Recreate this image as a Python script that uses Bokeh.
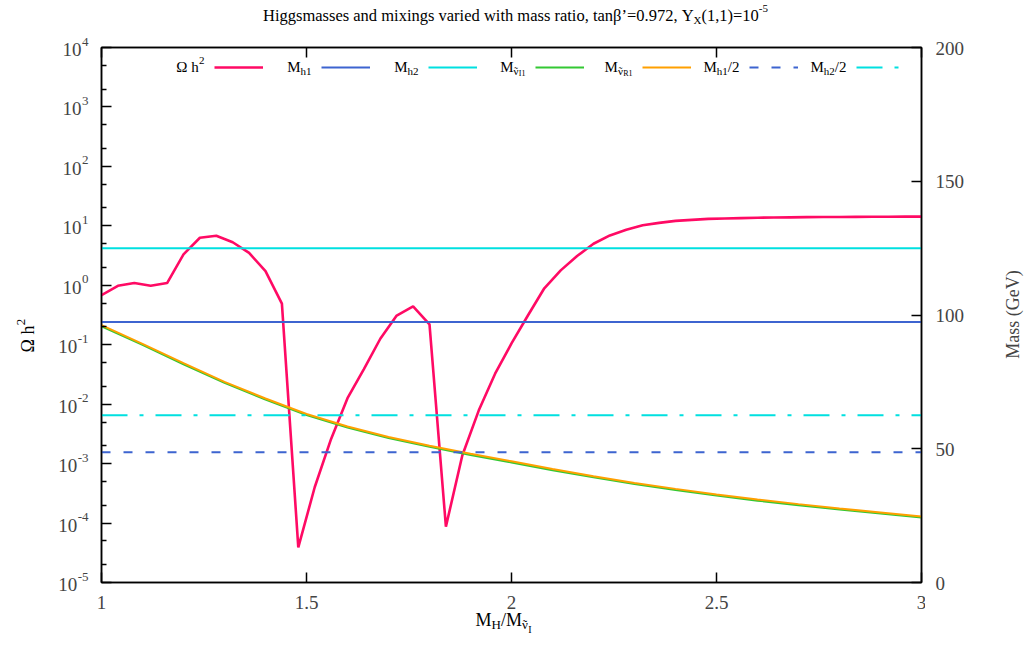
import unicodedata
from math import pi

from bokeh.plotting import figure
from bokeh.layouts import column, row
from bokeh.models import (Range1d, LinearAxis, LinearScale, LogScale, FixedTicker,
                          CustomJSTickFormatter, Label, Legend, LegendItem)
from bokeh.embed import file_html
from bokeh.resources import INLINE

# ---------------------------------------------------------------- data
# relic density along the scan in M_H / M_snu_I
mass_ratio = [1.00, 1.04, 1.08, 1.12, 1.16, 1.20, 1.24, 1.28, 1.32, 1.36,
              1.40, 1.44, 1.48, 1.52, 1.56, 1.60, 1.64, 1.68, 1.72, 1.76,
              1.80, 1.84, 1.88, 1.92, 1.96, 2.00, 2.04, 2.08, 2.12, 2.16,
              2.20, 2.24, 2.28, 2.32, 2.36, 2.40, 2.44, 2.48, 2.52, 2.56,
              2.60, 2.64, 2.68, 2.72, 2.76, 2.80, 2.84, 2.88, 2.92, 2.96, 3.00]
omega_h2 = [0.68, 0.98, 1.09, 0.98, 1.09, 3.3, 6.3, 6.8, 5.3, 3.5,
            1.73, 0.49, 3.9e-5, 4.0e-4, 2.6e-3, 1.26e-2, 3.9e-2, 0.126, 0.31, 0.44,
            0.22, 8.7e-5, 1.37e-3, 7.8e-3, 3.25e-2, 0.105, 0.31, 0.89, 1.78, 3.1,
            5.0, 6.9, 8.6, 10.2, 11.2, 12.1, 12.6, 13.1, 13.3, 13.5,
            13.7, 13.8, 13.9, 14.0, 14.05, 14.1, 14.15, 14.2, 14.25, 14.3, 14.3]

# lightest sneutrino masses (GeV)
ratio_grid = [1.0, 1.1, 1.2, 1.3, 1.4, 1.5, 1.6, 1.7, 1.8, 1.9, 2.0,
              2.1, 2.2, 2.3, 2.4, 2.5, 2.6, 2.7, 2.8, 2.9, 3.0]
m_snu_I1 = [95.8, 88.8, 81.6, 74.6, 68.4, 62.6, 57.9, 54.0, 50.7, 47.7, 44.9,
            42.0, 39.3, 36.8, 34.6, 32.5, 30.6, 28.9, 27.3, 25.8, 24.3]
m_snu_R1 = [96.2, 89.2, 82.0, 75.0, 68.8, 63.0, 58.3, 54.4, 51.1, 48.1, 45.3,
            42.4, 39.7, 37.2, 35.0, 32.9, 31.0, 29.3, 27.7, 26.2, 24.7]

# Higgs masses (GeV)
m_h1 = 97.4
m_h2 = 125.0

omega_exponents = [-5, -4, -3, -2, -1, 0, 1, 2, 3, 4]
omega_minor_mantissas = [2, 5]
mass_ticks = [0, 50, 100, 150, 200]
ratio_ticks = [1, 1.5, 2, 2.5, 3]

# ---------------------------------------------------------------- style / geometry
PINK, BLUE, CYAN, GREEN, ORANGE = "#ff0a64", "#3d64d0", "#00e0e0", "#33c833", "#ffa000"
FONT = "Liberation Serif"
W, H = 1029, 651
FL, FR, FT, FB = 101, 921, 47, 582          # plot frame edges on the page
TITLE_H, LEFT_W = 30, 90                    # title strip, left text column
P_RIGHT, P_BOTTOM = 925, 586                # outer edges of the plot canvas
RIGHT_W = W - P_RIGHT
MAIN_W = P_RIGHT - LEFT_W
P_H = P_BOTTOM - TITLE_H
DEC = (FB - FT) / (omega_exponents[-1] - omega_exponents[0])   # px per decade
PX_PER_X = (FR - FL) / (ratio_ticks[-1] - ratio_ticks[0])
PX_PER_GEV = (FB - FT) / (mass_ticks[-1] - mass_ticks[0])
LIFT = 6                                    # baseline correction for Label text

# Times-style advance widths (1/1000 em) used to chain text pieces
GLYPH_W = {" ": 250, "a": 444, "b": 500, "c": 444, "d": 500, "e": 444, "f": 333,
           "g": 500, "h": 500, "i": 278, "k": 500, "l": 278, "m": 778, "n": 500,
           "o": 500, "p": 500, "r": 333, "s": 389, "t": 278, "u": 500, "v": 500,
           "w": 722, "x": 500, "y": 500, "H": 722, "M": 889, "X": 722, "Y": 722,
           "I": 333, "R": 667, ",": 250, ".": 250, "(": 333, ")": 333, "=": 564,
           "-": 333, "/": 278, "\u2019": 333, "\u03b2": 500, "\u03a9": 768,
           "\u03bd": 480, "\u02dc": 333}


def text_width(s, size):
    return size / 1000 * sum(GLYPH_W.get(c, 500) for c in s if not unicodedata.combining(c))


def rich_text(fig, origin, parts, x, y, align="left"):
    """Chain (text, size, rise[, "over"]) pieces on one baseline at page (x, y).
    origin is the page position of the figure frame's bottom-left corner;
    an "over" piece is centred on the previous piece without advancing."""
    ox, oy = origin
    total = sum(text_width(pt[0], pt[1]) for pt in parts if len(pt) == 3)
    cx = x - {"left": 0, "center": total / 2, "right": total}[align]
    prev_x, prev_w = cx, 0
    for pt in parts:
        t, s, rise = pt[:3]
        w = text_width(t, s)
        px = prev_x + (prev_w - w) / 2 if len(pt) == 4 else cx
        fig.add_layout(Label(x=px - ox, y=oy - y + rise + LIFT,
                             x_units="screen", y_units="screen",
                             text=t, text_font=FONT, text_font_size=f"{s}px",
                             text_color="black", text_align="left",
                             text_baseline="alphabetic"))
        if len(pt) == 3:
            prev_x, prev_w = cx, w
            cx += w


def rich_text_up(fig, origin, parts, x, y):
    """Same, rotated to read bottom-to-top, starting at page position (x, y)."""
    ox, oy = origin
    cy = y
    for t, s, rise in parts:
        fig.add_layout(Label(x=x - rise - LIFT - ox, y=oy - cy,
                             x_units="screen", y_units="screen",
                             angle=pi / 2, text=t, text_font=FONT, text_font_size=f"{s}px",
                             text_color="black", text_align="left",
                             text_baseline="alphabetic"))
        cy -= text_width(t, s)


def text_panel(width, height):
    f = figure(width=width, height=height, x_range=Range1d(0, width), y_range=Range1d(0, 1),
               x_axis_type=None, y_axis_type=None, output_backend="svg",
               toolbar_location=None, title=None, min_border=0, frame_align=False)
    f.outline_line_color = None
    f.background_fill_color = "white"
    f.border_fill_color = "white"
    return f


def nu_tilde(size, rise):
    return [("\u03bd", size, rise), ("\u02dc", size, rise, "over")]


# ---------------------------------------------------------------- main plot
p = figure(width=MAIN_W, height=P_H, title=None,
           x_range=Range1d(ratio_ticks[0], ratio_ticks[-1]),
           y_range=Range1d(10.0 ** omega_exponents[0], 10.0 ** omega_exponents[-1]),
           y_axis_type="log", output_backend="svg", toolbar_location=None,
           min_border_left=FL - LEFT_W, min_border_right=P_RIGHT - FR,
           min_border_top=FT - TITLE_H, min_border_bottom=P_BOTTOM - FB)
p.xgrid.visible = False
p.ygrid.visible = False
p.outline_line_color = "black"
p.outline_line_width = 1.5
p.background_fill_color = "white"
p.border_fill_color = "white"

blank = CustomJSTickFormatter(code="return ''")

# left: Omega h^2 (log)
ya = p.yaxis[0]
ya.ticker = FixedTicker(
    ticks=[10.0 ** k for k in omega_exponents],
    minor_ticks=[m * 10.0 ** k for k in omega_exponents[:-1] for m in omega_minor_mantissas])
ya.minor_tick_in, ya.minor_tick_out = 5, 0

# bottom and top: mass ratio
xa = p.xaxis[0]
xa.ticker = FixedTicker(ticks=ratio_ticks)
xt = LinearAxis(ticker=FixedTicker(ticks=ratio_ticks))
p.add_layout(xt, "above")

# right: masses in GeV
p.extra_y_ranges = {"mass": Range1d(mass_ticks[0], mass_ticks[-1])}
p.extra_y_scales = {"mass": LinearScale()}
yr = LinearAxis(y_range_name="mass", ticker=FixedTicker(ticks=mass_ticks))
p.add_layout(yr, "right")

# all tick labels are set as rich text in the panels around the frame
for ax in (ya, xa, xt, yr):
    ax.formatter = blank
    ax.major_label_standoff = 0
    ax.major_label_text_font_size = "0px"
    ax.axis_line_color = "black"
    ax.axis_line_width = 1.5
    ax.major_tick_line_color = "black"
    ax.major_tick_line_width = 1.5
    ax.minor_tick_line_width = 1.5
    ax.major_tick_in, ax.major_tick_out = 10, 0
for ax in (xa, xt, yr):
    ax.minor_tick_line_color = None

# ---------------------------------------------------------------- curves
x_span = [mass_ratio[0], mass_ratio[-1]]
r_om = p.line(mass_ratio, omega_h2, line_color=PINK, line_width=2.6)
r_h1 = p.line(x_span, [m_h1, m_h1], y_range_name="mass", line_color=BLUE, line_width=2)
r_h2 = p.line(x_span, [m_h2, m_h2], y_range_name="mass", line_color=CYAN, line_width=2)
r_sI = p.line(ratio_grid, m_snu_I1, y_range_name="mass", line_color=GREEN, line_width=2)
r_sR = p.line(ratio_grid, m_snu_R1, y_range_name="mass", line_color=ORANGE, line_width=2)
r_hh1 = p.line(x_span, [m_h1 / 2, m_h1 / 2], y_range_name="mass", line_color=BLUE,
               line_width=2, line_dash="9 13")
r_hh2 = p.line(x_span, [m_h2 / 2, m_h2 / 2], y_range_name="mass", line_color=CYAN,
               line_width=2, line_dash="26 12 4 12")

# key: line samples from the legend, labels set to their left
LEG_X, LEG_Y, LEG_STEP, LEG_LEN = 214, 67, 107, 49
legend = Legend(items=[LegendItem(label=" ", renderers=[r])
                       for r in (r_om, r_h1, r_h2, r_sI, r_sR, r_hh1, r_hh2)],
                orientation="horizontal", location=(LEG_X - FL, FB - LEG_Y - 10),
                glyph_width=LEG_LEN, glyph_height=20, label_width=LEG_STEP - LEG_LEN,
                label_height=20, label_standoff=0, spacing=0, padding=0, margin=0,
                border_line_alpha=0, background_fill_alpha=0, label_text_font_size="1px")
p.add_layout(legend)

key_texts = [
    [("\u03a9 h", 15, 0), ("2", 11, 6)],
    [("M", 15, 0), ("h1", 11, -4)],
    [("M", 15, 0), ("h2", 11, -4)],
    [("M", 15, 0)] + nu_tilde(11, -4) + [("I1", 8, -7)],
    [("M", 15, 0)] + nu_tilde(11, -4) + [("R1", 8, -7)],
    [("M", 15, 0), ("h1", 11, -4), ("/2", 15, 0)],
    [("M", 15, 0), ("h2", 11, -4), ("/2", 15, 0)],
]
for i, parts in enumerate(key_texts):
    rich_text(p, (FL, FB), parts, LEG_X + i * LEG_STEP - 10, LEG_Y + 5, "right")

# ---------------------------------------------------------------- title strip
top = text_panel(W, TITLE_H)
rich_text(top, (0, TITLE_H),
          [("Higgsmasses and mixings varied with mass ratio, tan\u03b2\u2019=0.972, Y", 16.5, 0),
           ("X", 11, -4), ("(1,1)=10", 16.5, 0), ("-5", 11, 7)], 515, 21, "center")

# ---------------------------------------------------------------- left column
# decade labels on the same log mapping as the plot frame
left = text_panel(LEFT_W, H - TITLE_H)
left.y_scale = LogScale()
left.y_range = Range1d(10.0 ** (omega_exponents[0] - (H - FB) / DEC),
                       10.0 ** (omega_exponents[-1] + (FT - TITLE_H) / DEC))
EXP_RIGHT = FL - 13
for k in omega_exponents:
    exp = str(k)
    w_exp = text_width(exp, 13)
    left.add_layout(Label(x=EXP_RIGHT - w_exp - 0.5, y=10.0 ** k, y_offset=-8 + LIFT,
                          text="10", text_font=FONT, text_font_size="19px",
                          text_align="right", text_baseline="alphabetic"))
    left.add_layout(Label(x=EXP_RIGHT, y=10.0 ** k, y_offset=LIFT,
                          text=exp, text_font=FONT, text_font_size="13px",
                          text_align="right", text_baseline="alphabetic"))
rich_text_up(left, (0, H), [("\u03a9 h", 18, 0), ("2", 13, 7)], 33, 352)

# ---------------------------------------------------------------- right column
right = text_panel(RIGHT_W, H - TITLE_H)
right.y_range = Range1d(mass_ticks[0] - (H - FB) / PX_PER_GEV,
                        mass_ticks[-1] + (FT - TITLE_H) / PX_PER_GEV)
for m in mass_ticks:
    right.add_layout(Label(x=935 - P_RIGHT, y=m, y_offset=LIFT - 6.5, text=str(m),
                           text_font=FONT, text_font_size="19px",
                           text_align="left", text_baseline="alphabetic"))
right.add_layout(Label(x=1012 - P_RIGHT, y=H - 314, x_units="screen", y_units="screen",
                       angle=pi / 2, text="Mass (GeV)", text_font=FONT,
                       text_font_size="18px", text_align="center", text_baseline="middle"))

# ---------------------------------------------------------------- strip below the frame
bottom = text_panel(MAIN_W, H - P_BOTTOM)
bottom.x_range = Range1d(ratio_ticks[0] - (FL - LEFT_W) / PX_PER_X,
                         ratio_ticks[-1] + (P_RIGHT - FR) / PX_PER_X)
for t in ratio_ticks:
    bottom.add_layout(Label(x=t, y=H - 608 + LIFT, y_units="screen", text=f"{t:g}",
                            text_font=FONT, text_font_size="19px",
                            text_align="center", text_baseline="alphabetic"))
rich_text(bottom, (LEFT_W, H),
          [("M", 18, 0), ("H", 13, -5), ("/M", 18, 0)] + nu_tilde(13, -5) + [("I", 10, -10)],
          475, 625)

page = column(top, row(left, column(p, bottom), right))
open("out.html", "w").write(file_html(page, INLINE))
